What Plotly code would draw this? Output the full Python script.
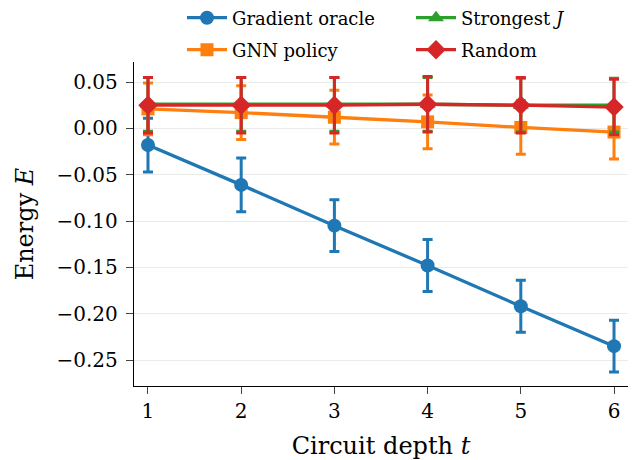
import plotly.graph_objects as go

depth = [1, 2, 3, 4, 5, 6]
grad_mean = [-0.018, -0.061, -0.105, -0.148, -0.192, -0.235]
grad_err = [0.029, 0.029, 0.028, 0.028, 0.028, 0.028]
gnn_mean = [0.021, 0.017, 0.012, 0.007, 0.001, -0.004]
gnn_err = [0.028, 0.029, 0.029, 0.029, 0.029, 0.029]
strong_mean = [0.026, 0.026, 0.026, 0.026, 0.025, 0.025]
strong_err = [0.029, 0.029, 0.029, 0.029, 0.029, 0.029]
rand_mean = [0.025, 0.025, 0.025, 0.026, 0.025, 0.023]
rand_err = [0.030, 0.030, 0.030, 0.030, 0.030, 0.030]

yticks = [0.05, 0.0, -0.05, -0.10, -0.15, -0.20, -0.25]
ytick_text = ["0.05", "0.00", "\u22120.05", "\u22120.10", "\u22120.15", "\u22120.20", "\u22120.25"]

series = [
    ("Gradient oracle", grad_mean, grad_err, "#1f77b4", "circle", "legend", 14),
    ("GNN policy", gnn_mean, gnn_err, "#ff7f0e", "square", "legend2", 13),
    ("Strongest <i>J</i>", strong_mean, strong_err, "#2ca02c", "triangle-up", "legend3", 14),
    ("Random", rand_mean, rand_err, "#d62728", "diamond", "legend4", 15),
]

fig = go.Figure()
for name, m, e, c, sym, leg, sz in series:
    fig.add_trace(go.Scatter(
        x=depth, y=m, name=name, mode="lines+markers",
        line=dict(color=c, width=3.3),
        marker=dict(symbol=sym, size=sz, color=c),
        error_y=dict(type="data", array=e, visible=True, color=c, thickness=3, width=5),
        legend=leg, showlegend=True,
    ))

L, R, T, B = 134, 6, 62, 74
W, H = 634, 460
pw, ph = W - L - R, H - T - B

def px_x(x):
    return (x - L) / pw

def px_y(y):
    return 1 + (T - y) / ph

FAM = "DejaVu Serif"
leg_common = dict(xanchor="left", yanchor="middle",
                  bgcolor="rgba(0,0,0,0)", font=dict(family=FAM, size=18, color="black"),
                  itemwidth=40)
fig.update_layout(
    width=W, height=H,
    margin=dict(l=L, r=R, t=T, b=B, autoexpand=False),
    showlegend=True,
    plot_bgcolor="white", paper_bgcolor="white",
    font=dict(family=FAM, size=20, color="black"),
    legend=dict(x=px_x(182), y=px_y(18), **leg_common),
    legend2=dict(x=px_x(182), y=px_y(50), **leg_common),
    legend3=dict(x=px_x(411), y=px_y(18), **leg_common),
    legend4=dict(x=px_x(411), y=px_y(50), **leg_common),
    xaxis=dict(
        range=[0.85, 6.15], tickvals=depth, ticks="outside", ticklen=7, tickwidth=1.3,
        showline=True, linecolor="black", linewidth=1.4, showgrid=False, zeroline=False,
        title=dict(text="Circuit depth <i>t</i>", font=dict(family=FAM, size=24, color="black"),
                   standoff=14),
        tickfont=dict(family=FAM, size=20, color="black"),
    ),
    yaxis=dict(
        range=[-0.278, 0.0716], tickvals=yticks, ticktext=ytick_text, ticks="outside",
        ticklen=7, tickwidth=1.3, showline=True, linecolor="black", linewidth=1.4,
        showgrid=True, gridcolor="#ebebeb", gridwidth=1, zeroline=False,
        ticklabelstandoff=4,
        title=dict(text="Energy <i>E</i>", font=dict(family=FAM, size=24, color="black"),
                   standoff=16),
        tickfont=dict(family=FAM, size=20, color="black"),
    ),
)

fig.write_html("out.html")
